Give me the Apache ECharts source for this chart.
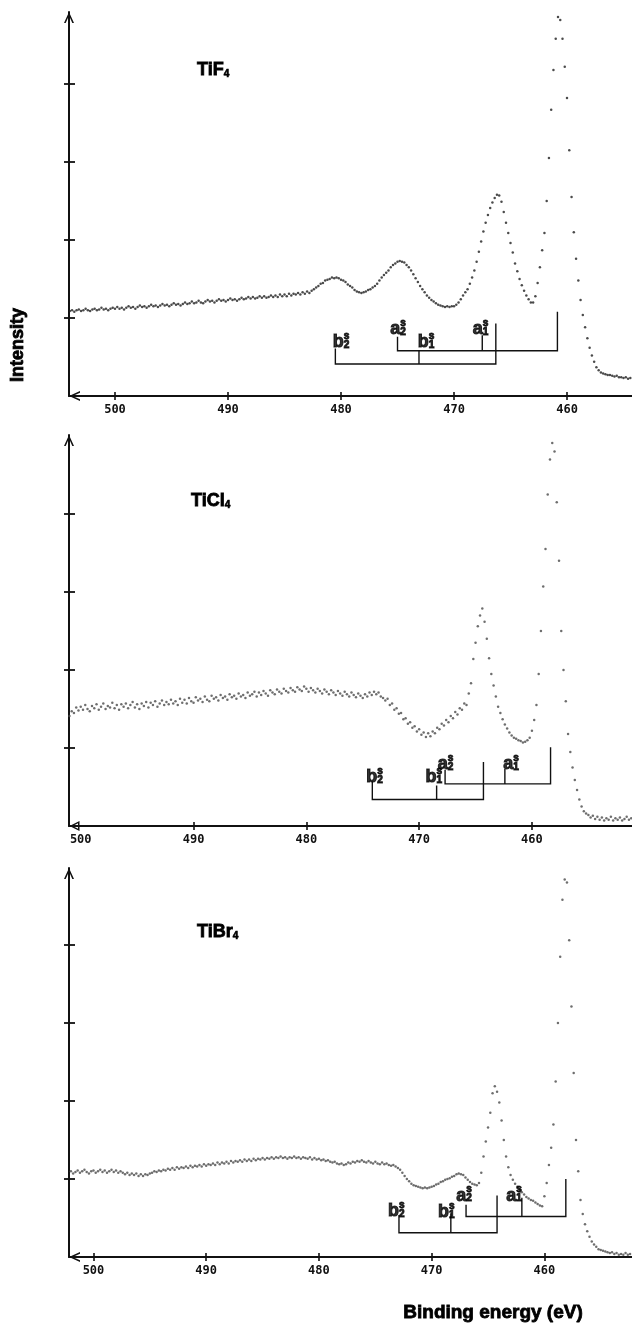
<!DOCTYPE html>
<html><head><meta charset="utf-8">
<script src="https://cdn.jsdelivr.net/npm/echarts@6/dist/echarts.min.js"></script>
<style>html,body{margin:0;padding:0;background:#fff}#c{width:632px;height:1323px}</style>
</head><body><div id="c"></div>
<script>
// ---------- data (intensity in 1/100 of a tick division) ----------
const panelNames = ['TiF', 'TiCl', 'TiBr'];
const energyStep = 0.2;                 // eV between samples
const energyStartTiF4 = 504.0;
const energyStartTiCl4 = 501.0;
const energyStartTiBr4 = 502.2;

const intensityTiF4 = [
109,110,108,110,111,109,110,112,110,109,
111,112,110,111,113,111,112,110,112,113,
112,114,112,113,111,113,115,113,114,112,
114,116,114,115,113,115,117,115,116,114,
116,118,116,117,115,117,119,117,118,116,
118,120,118,119,121,119,120,122,120,119,
121,123,121,122,120,122,124,122,123,121,
123,125,123,124,122,124,126,124,125,127,
125,127,125,126,128,126,128,126,127,129,
127,129,127,130,128,130,128,131,129,131,
130,132,130,133,131,134,132,135,137,139,
141,144,145,148,149,150,152,151,152,151,
149,148,146,143,141,139,136,134,133,132,
133,134,136,137,139,141,144,148,152,155,
158,161,165,168,170,172,173,172,171,168,
165,161,156,151,146,141,137,133,129,126,
123,121,119,117,116,115,114,115,114,115,
115,117,120,124,129,133,137,144,152,161,
172,185,198,211,222,232,241,248,254,258,
257,249,236,222,209,196,184,170,160,150,
142,135,129,124,120,120,128,145,165,187,
209,250,305,367,418,458,486,482,458,422,
382,315,255,210,176,148,123,104,88,74,
62,52,44,37,33,30,29,28,27,27,
26,25,26,24,24,23,24,22,23,22
];

const intensityTiCl4 = [
141,147,145,152,148,153,149,155,150,147,
154,151,156,149,153,157,150,154,152,158,
151,155,149,156,153,157,151,155,159,152,
156,150,157,154,159,152,158,155,160,153,
157,161,155,159,156,162,157,160,155,163,
158,162,157,164,160,158,165,161,163,159,
166,162,160,167,163,165,161,168,164,166,
162,169,165,167,163,170,166,168,164,171,
167,169,172,166,171,168,173,170,167,174,
171,169,175,172,170,176,173,171,177,174,
172,178,175,173,179,176,172,177,174,171,
176,173,170,175,172,169,174,171,168,173,
170,167,172,169,166,171,168,165,170,167,
164,169,166,171,168,172,169,171,166,164,
161,163,155,157,149,151,144,145,137,138,
131,133,126,128,121,124,117,120,114,119,
115,121,119,126,124,131,129,136,133,141,
138,146,143,151,149,157,155,170,183,214,
235,256,270,279,262,240,215,195,180,166,
153,145,137,130,125,120,116,113,112,110,
109,107,108,110,113,122,136,155,195,250,
307,355,425,470,491,480,415,340,250,200,
160,118,95,75,59,46,34,25,19,16,
14,11,13,9,12,8,11,7,10,8,
12,7,10,8,11,7,9,12,8,10
];

const intensityTiBr4 = [
108,110,107,109,111,108,110,112,109,107,
110,111,108,110,112,109,111,108,110,112,
109,111,108,110,108,106,108,105,107,105,
107,104,106,104,106,105,107,108,110,109,
111,110,112,111,113,112,114,112,115,113,
115,114,116,114,117,115,117,116,118,116,
119,117,119,118,120,118,121,119,121,120,
122,120,123,121,123,122,124,122,125,123,
125,123,126,124,126,125,127,125,127,126,
128,126,128,127,129,127,128,126,128,127,
129,127,128,126,128,127,126,128,125,127,
125,126,124,125,123,124,122,121,122,120,
119,120,118,119,121,120,122,121,123,122,
124,122,121,123,121,120,122,120,119,121,
119,120,118,117,118,116,114,112,108,104,
100,97,94,92,91,90,89,88,89,88,
89,90,91,93,94,96,97,99,100,101,
103,104,106,107,106,105,102,99,96,94,
93,92,95,108,129,148,166,185,210,219,
212,198,175,150,129,115,105,99,94,90,
86,83,80,77,75,73,72,70,68,66,
65,78,95,118,140,170,225,300,385,458,
484,480,406,321,236,150,110,73,55,42,
33,26,20,16,13,10,9,8,7,6,
5,6,4,5,3,4,3,5,3,4
];

// satellite brackets: [level, [energy, stemTop], ...]
const bracketsTiF4 = [
  [0.58, [475.0, 0.76], [467.5, 0.78], [460.85, 1.08]],
  [0.41, [480.5, 0.61], [473.1, 0.58], [466.3, 0.93]]
];
const bracketsTiCl4 = [
  [0.54, [467.7, 0.72], [462.4, 0.73], [458.35, 1.01]],
  [0.34, [474.15, 0.57], [468.45, 0.52], [464.3, 0.82]]
];
const bracketsTiBr4 = [
  [0.52, [466.95, 0.67], [462.0, 0.76], [458.1, 1.0]],
  [0.31, [472.9, 0.54], [468.3, 0.56], [464.2, 0.79]]
];

// term labels: [letter, subscript, energy of left edge, intensity of baseline]
const labelsTiF4 = [['b','2',480.68,0.61],['a','2',475.6,0.78],['b','1',473.16,0.61],['a','1',468.3,0.78]];
const labelsTiCl4 = [['b','2',474.65,0.55],['b','1',469.39,0.55],['a','2',468.3,0.72],['a','1',462.5,0.72]];
const labelsTiBr4 = [['b','2',473.84,0.51],['b','1',469.4,0.50],['a','2',467.77,0.71],['a','1',463.34,0.71]];

const xTickValues = [460, 470, 480, 490, 500];
const xTickValuesTiCl4 = [460, 470, 480, 490];
const yTickValues = [1, 2, 3, 4];

// ---------- layout ----------
const panelGrid = [{top: 12, height: 384}, {top: 435, height: 391}, {top: 868, height: 389}];
const panelXRange = [[454.25, 504.07], [451.13, 501.04], [452.23, 502.17]];
const panelYMax = [4.923, 5.013, 4.987];
const titlePos = [[197, 61], [191, 492], [197, 923]];
const dotColor = ['#1e1e1e', '#4a4a4a', '#4a4a4a'];

const INK = '#111';
const SANS = '"Liberation Sans", Arial, sans-serif';
const arrowUp = 'path://M0,11 L5,0 L10,11 L8.3,11 L5,3.6 L1.7,11 Z';
const triUp = 'path://M5,0 L10,10 L0,10 Z M5,3.2 L2.3,8.5 L7.7,8.5 Z';

const intensities = [intensityTiF4, intensityTiCl4, intensityTiBr4];
const starts = [energyStartTiF4, energyStartTiCl4, energyStartTiBr4];
const brackets = [bracketsTiF4, bracketsTiCl4, bracketsTiBr4];
const labels = [labelsTiF4, labelsTiCl4, labelsTiBr4];

const grid = [], xAxis = [], yAxis = [], series = [], title = [];

for (let p = 0; p < 3; p++) {
  grid.push({left: 69, right: 0, top: panelGrid[p].top, height: panelGrid[p].height});
  const ticks = p === 1 ? xTickValuesTiCl4 : xTickValues;
  const xBase = {type: 'value', gridIndex: p, min: panelXRange[p][0], max: panelXRange[p][1],
    inverse: true, position: 'bottom', splitLine: {show: false}};
  xAxis.push(Object.assign({}, xBase, {
    axisLine: {show: true, onZero: false, lineStyle: {color: INK, width: 2},
      symbol: [p === 1 ? triUp : arrowUp, 'none'], symbolSize: [10, 11], symbolOffset: [5.5, 0]},
    axisTick: {show: true, inside: false, length: 4, customValues: ticks, lineStyle: {color: INK, width: 1.6}},
    axisLabel: {show: true, customValues: xTickValues, margin: 8, color: INK,
      fontFamily: '"DejaVu Sans Mono", monospace', fontWeight: 'bold', fontSize: 12,
      formatter: v => String(Math.round(v))}
  }));
  xAxis.push(Object.assign({}, xBase, {
    axisLine: {show: false},
    axisTick: {show: true, inside: true, length: 4, customValues: ticks, lineStyle: {color: INK, width: 1.6}},
    axisLabel: {show: false}
  }));
  const yBase = {type: 'value', gridIndex: p, min: 0, max: panelYMax[p], position: 'left', splitLine: {show: false}};
  yAxis.push(Object.assign({}, yBase, {
    axisLine: {show: true, onZero: false, lineStyle: {color: INK, width: 2},
      symbol: ['none', arrowUp], symbolSize: [10, 11], symbolOffset: [0, -5.5]},
    axisTick: {show: true, inside: false, length: 5, customValues: yTickValues, lineStyle: {color: INK, width: 1.8}},
    axisLabel: {show: false}
  }));
  yAxis.push(Object.assign({}, yBase, {
    axisLine: {show: false},
    axisTick: {show: true, inside: true, length: 6, customValues: yTickValues, lineStyle: {color: INK, width: 1.8}},
    axisLabel: {show: false}
  }));

  // spectrum dots
  const arr = intensities[p], e0 = starts[p];
  series.push({
    type: 'scatter', xAxisIndex: 2 * p, yAxisIndex: 2 * p, silent: true,
    symbol: 'circle', symbolSize: 2.5, itemStyle: {color: dotColor[p]},
    data: arr.map((v, i) => [Math.round((e0 - energyStep * i) * 10) / 10, v / 100])
  });

  // brackets
  const bdata = [];
  brackets[p].forEach(b => {
    const level = b[0], stems = b.slice(1);
    const first = stems[0], last = stems[stems.length - 1];
    bdata.push({coords: [[first[0], first[1]], [first[0], level], [last[0], level], [last[0], last[1]]]});
    stems.slice(1, -1).forEach(s => bdata.push({coords: [[s[0], level], [s[0], s[1]]]}));
  });
  series.push({
    type: 'lines', coordinateSystem: 'cartesian2d', xAxisIndex: 2 * p, yAxisIndex: 2 * p,
    polyline: true, silent: true, data: bdata,
    lineStyle: {color: INK, width: 1.4, opacity: 1, curveness: 0}
  });

  // term labels
  const ldata = [];
  labels[p].forEach(l => {
    ldata.push({value: [l[2], l[3]], label: {formatter: l[0], offset: [0, 3.5]}});
    ldata.push({value: [l[2], l[3]], label: {formatter: 's\n' + l[1], fontSize: 10, lineHeight: 9,
      offset: [l[0] === 'b' ? 11 : 10, 2]}});
  });
  series.push({
    type: 'scatter', xAxisIndex: 2 * p, yAxisIndex: 2 * p, silent: true,
    symbolSize: 1, itemStyle: {color: 'transparent'}, data: ldata,
    label: {show: true, position: [0, 0], align: 'left', verticalAlign: 'bottom',
      fontFamily: SANS, fontWeight: 'bold', fontSize: 18, color: '#000',
      textBorderColor: '#000', textBorderWidth: 1}
  });

  title.push({
    text: '{m|' + panelNames[p] + '}{s|4}', left: titlePos[p][0], top: titlePos[p][1], padding: 0,
    textStyle: {rich: {
      m: {fontFamily: SANS, fontWeight: 'bold', fontSize: 18, color: '#000', textBorderColor: '#000', textBorderWidth: 0.8},
      s: {fontFamily: SANS, fontWeight: 'bold', fontSize: 10, color: '#000', verticalAlign: 'bottom', padding: [0, 0, 0, 0],
          textBorderColor: '#000', textBorderWidth: 0.6}
    }}
  });
}

const chart = echarts.init(document.getElementById('c'), null, {renderer: 'canvas'});
chart.setOption({
  animation: false,
  backgroundColor: '#fff',
  title, grid, xAxis, yAxis, series,
  graphic: [
    {type: 'text', x: 18, y: 345, rotation: Math.PI / 2,
      style: {text: 'Intensity', font: 'bold 18px ' + SANS, fill: '#000', stroke: '#000', lineWidth: 0.8,
        align: 'center', verticalAlign: 'middle'}},
    {type: 'text', x: 493, y: 1313,
      style: {text: 'Binding energy (eV)', font: 'bold 19px ' + SANS, fill: '#000', stroke: '#000', lineWidth: 0.8,
        align: 'center', verticalAlign: 'middle'}}
  ]
});
</script>
</body></html>
